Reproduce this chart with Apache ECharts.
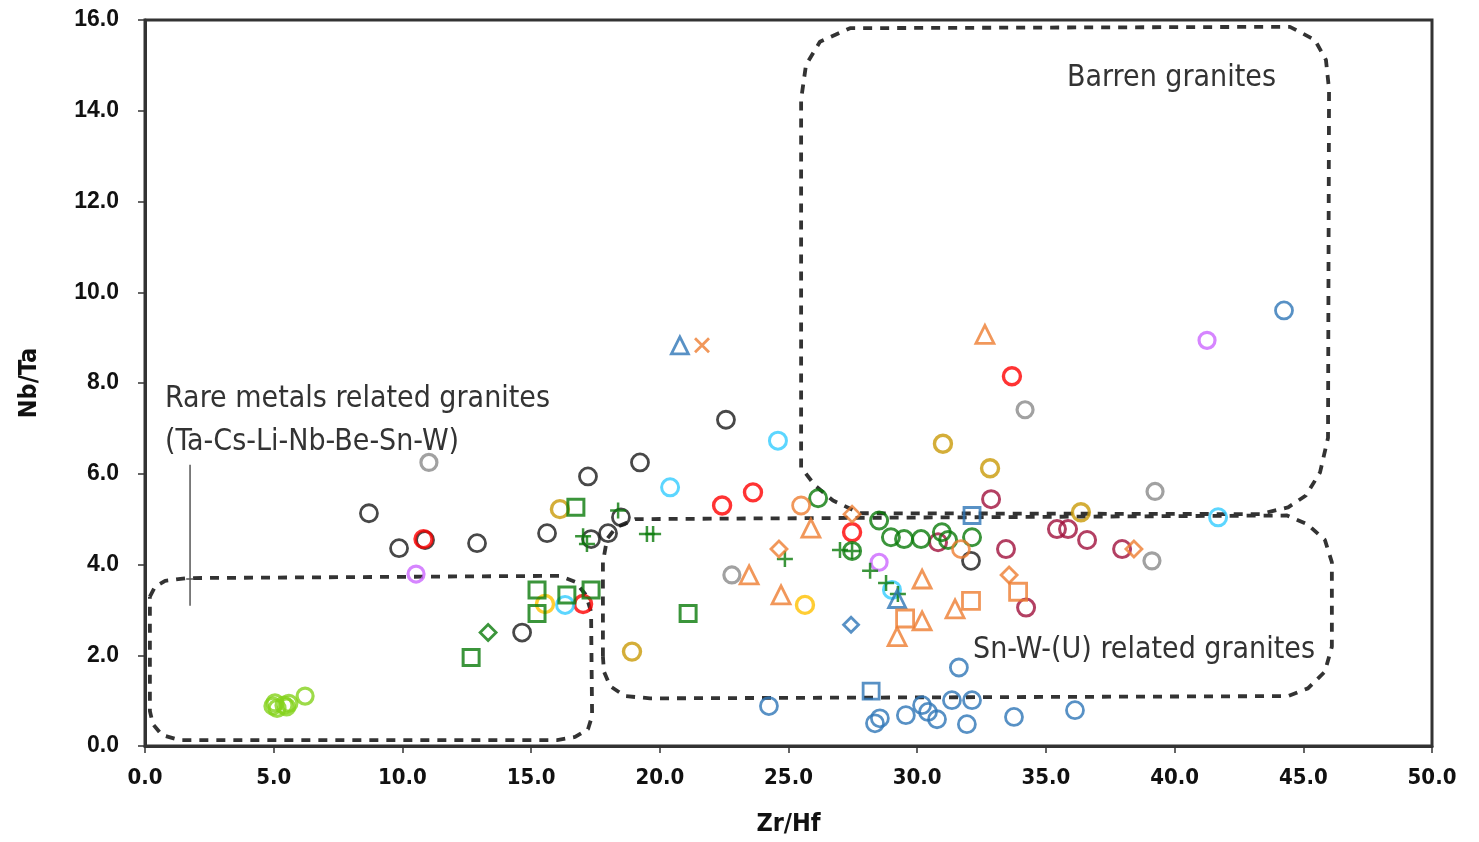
<!DOCTYPE html>
<html><head><meta charset="utf-8">
<script src="https://cdn.jsdelivr.net/npm/echarts@6/dist/echarts.min.js"></script>
<style>html,body{margin:0;padding:0;background:#fff}#c{width:1479px;height:842px}</style>
</head><body><div id="c"></div>
<script>
// ---- tick labels ----
const xTicks = [0, 5, 10, 15, 20, 25, 30, 35, 40, 45, 50];
const yTicks = [0, 2, 4, 6, 8, 10, 12, 14, 16];

// ---- data (Zr/Hf, Nb/Ta) ----
const blackCircles = [[8.70,5.13],[9.87,4.36],[10.88,4.54],[12.90,4.47],[14.65,2.50],[15.62,4.69],[17.21,5.94],[17.33,4.56],[17.99,4.69],[18.49,5.04],[19.23,6.25],[22.57,7.19],[32.09,4.08]];
const grayCircles = [[11.03,6.25],[22.80,3.77],[34.19,7.41],[39.24,5.61],[39.12,4.08]];
const redCircles = [[10.82,4.56],[17.02,3.13],[22.42,5.30],[23.62,5.59],[27.47,4.71],[33.68,8.15]];
const skyCircles = [[16.32,3.11],[20.40,5.70],[24.59,6.73],[29.02,3.44],[41.69,5.04]];
const yellowCircles = [[15.54,3.13],[25.64,3.11]];
const goldCircles = [[16.12,5.22],[18.92,2.08],[31.00,6.66],[32.83,6.12],[36.36,5.15]];
const purpleCircles = [[10.53,3.79],[28.52,4.05],[41.26,8.94]];
const crimsonCircles = [[30.81,4.49],[32.87,5.44],[33.45,4.34],[35.43,4.78],[35.86,4.78],[36.60,4.54],[37.96,4.34],[34.23,3.05]];
const greenCircles = [[26.15,5.46],[28.52,4.97],[28.98,4.60],[29.49,4.56],[30.15,4.56],[30.96,4.71],[31.20,4.54],[32.13,4.60],[27.47,4.30]];
const greenCrosses = [[17.02,4.62],[17.17,4.45],[18.38,5.19],[19.50,4.67],[19.74,4.67],[24.86,4.12],[27.00,4.32],[27.47,4.30],[28.17,3.86],[28.79,3.59],[29.25,3.35]];
const greenSquares = [[16.74,5.26],[15.23,3.44],[15.23,2.92],[16.39,3.33],[17.33,3.44],[21.10,2.92],[12.67,1.95]];
const greenDiamonds = [[13.33,2.50]];
const limeCircles = [[4.97,0.88],[5.05,0.95],[5.13,0.83],[5.40,0.90],[5.50,0.86],[5.59,0.94],[6.22,1.10]];
const blueCircles = [[44.25,9.60],[31.62,1.73],[28.36,0.50],[28.55,0.61],[29.56,0.68],[30.19,0.90],[30.42,0.75],[30.77,0.59],[31.35,1.01],[32.13,1.01],[31.93,0.48],[33.76,0.64],[24.24,0.88],[36.13,0.79]];
const blueSquares = [[28.21,1.21],[32.13,5.08]];
const blueTriangles = [[20.78,8.83],[29.22,3.24]];
const blueDiamonds = [[27.43,2.67]];
const orangeXs = [[21.64,8.83]];
const orangeCircles = [[25.49,5.30],[31.70,4.34]];
const orangeTriangles = [[25.87,4.80],[23.47,3.77],[24.71,3.33],[30.19,3.68],[30.19,2.76],[29.22,2.41],[31.47,3.02],[32.63,9.07]];
const orangeSquares = [[29.53,2.81],[32.09,3.20],[33.92,3.40]];
const orangeDiamonds = [[27.47,5.11],[24.63,4.34],[33.57,3.77],[38.42,4.34]];

// ---- field outlines (data coords) ----
const rareField = [[0.19,3.29],[0.39,3.51],[0.78,3.64],[1.63,3.70],[16.12,3.75],[16.71,3.62],[17.13,3.33],[17.33,2.96],[17.37,0.66],[17.21,0.37],[16.71,0.20],[16.01,0.13],[1.36,0.13],[0.66,0.24],[0.31,0.48],[0.19,0.77],[0.19,3.29]];
const snwField = [[17.79,1.97],[17.79,4.05],[17.95,4.56],[18.30,4.82],[19.04,5.00],[44.37,5.08],[45.15,4.89],[45.84,4.54],[46.11,4.05],[46.11,2.19],[45.84,1.64],[45.18,1.27],[44.41,1.10],[19.62,1.05],[18.65,1.10],[18.07,1.32],[17.83,1.64],[17.79,1.97]];
const barrenField = [[25.49,6.14],[25.49,14.25],[25.68,15.01],[26.22,15.52],[27.39,15.82],[44.48,15.85],[45.45,15.56],[45.88,15.12],[46.00,14.47],[45.96,6.79],[45.65,6.03],[45.10,5.52],[44.41,5.26],[43.32,5.11],[27.78,5.13],[26.73,5.41],[26.03,5.74],[25.49,6.14]];
const rareMarker = [[1.75,6.20],[1.75,3.09]];
const rareMarkerTick = [[1.60,3.68],[1.90,3.68]];

const PLUS = 'path://M0,5 L10,5 M5,0 L5,10';
const XMARK = 'path://M0,0 L10,10 M10,0 L0,10';
const NARROW = "'Liberation Sans Narrow','DejaVu Sans Condensed',sans-serif";

function sc(data, color, symbol, size, bw) {
  return {
    type: 'scatter', data: data, symbol: symbol, symbolSize: size, z: 5,
    itemStyle: { color: 'rgba(0,0,0,0)', borderColor: color, borderWidth: bw || 2.8 },
    emphasis: { disabled: true }
  };
}
function outline(data) {
  return {
    type: 'line', data: data, symbol: 'none', z: 2, silent: true,
    lineStyle: { color: '#333', width: 3.8, type: [9, 8] }
  };
}

const chart = echarts.init(document.getElementById('c'));
chart.setOption({
  animation: false,
  backgroundColor: '#fff',
  grid: { left: 145, right: 47, top: 20, bottom: 92, show: true, borderColor: '#333', borderWidth: 3, containLabel: false },
  xAxis: {
    type: 'value', min: 0, max: 50, interval: 5,
    name: 'Zr/Hf', nameLocation: 'middle', nameGap: 66,
    nameTextStyle: { fontFamily: NARROW, fontWeight: 'bold', fontSize: 25, color: '#111' },
    axisLine: { lineStyle: { color: '#333', width: 3 } },
    axisTick: { show: true, inside: false, length: 7, lineStyle: { color: '#333', width: 1.5 } },
    axisLabel: { margin: 21, fontFamily: NARROW, fontWeight: 'bold', fontSize: 22, color: '#111',
      formatter: v => xTicks.indexOf(v) >= 0 ? v.toFixed(1) : '' },
    splitLine: { show: false }
  },
  yAxis: {
    type: 'value', min: 0, max: 16, interval: 2,
    name: 'Nb/Ta', nameLocation: 'middle', nameGap: 103, nameRotate: 90,
    nameTextStyle: { fontFamily: NARROW, fontWeight: 'bold', fontSize: 25, color: '#111' },
    axisLine: { lineStyle: { color: '#333', width: 3 } },
    axisTick: { show: true, inside: false, length: 7, lineStyle: { color: '#333', width: 1.5 } },
    axisLabel: { margin: 26, fontFamily: "'Liberation Sans',Arial,sans-serif", fontWeight: 'bold', fontSize: 23, color: '#111',
      formatter: v => yTicks.indexOf(v) >= 0 ? v.toFixed(1) : '' },
    splitLine: { show: false }
  },
  graphic: [
    { type: 'text', left: 1067, top: 63, silent: true, style: { text: 'Barren granites', font: "30px " + NARROW, fill: '#333' } },
    { type: 'text', left: 165, top: 384, silent: true, style: { text: 'Rare metals related granites', font: "30px " + NARROW, fill: '#333' } },
    { type: 'text', left: 165, top: 427, silent: true, style: { text: '(Ta-Cs-Li-Nb-Be-Sn-W)', font: "30px " + NARROW, fill: '#333' } },
    { type: 'text', left: 973, top: 635, silent: true, style: { text: 'Sn-W-(U) related granites', font: "30px " + NARROW, fill: '#333' } }
  ],
  series: [
    outline(rareField), outline(snwField), outline(barrenField),
    { type: 'line', data: rareMarker, symbol: 'none', silent: true, z: 2, lineStyle: { color: '#555', width: 1.5 } },
    { type: 'line', data: rareMarkerTick, symbol: 'none', silent: true, z: 2, lineStyle: { color: '#555', width: 1.5 } },
    sc(limeCircles, '#84d21c', 'circle', 16, 3.2),
    sc(blackCircles, '#1a1a1a', 'circle', 17),
    sc(grayCircles, '#8a8a8a', 'circle', 16, 3.2),
    sc(redCircles, '#ff0000', 'circle', 17, 3.4),
    sc(skyCircles, '#33ccff', 'circle', 17, 3),
    sc(yellowCircles, '#ffc000', 'circle', 17, 3.4),
    sc(goldCircles, '#c99a08', 'circle', 17, 3.4),
    sc(purpleCircles, '#cc66ff', 'circle', 16, 3.2),
    sc(crimsonCircles, '#a0103c', 'circle', 17, 3),
    sc(greenCircles, '#0a7a0a', 'circle', 17, 3),
    sc(greenCrosses, '#0a7a0a', PLUS, 16, 2.5),
    sc(greenSquares, '#0a7a0a', 'rect', 16, 3),
    sc(greenDiamonds, '#0a7a0a', 'diamond', 16, 2.8),
    sc(blueCircles, '#2e75b6', 'circle', 17, 2.8),
    sc(blueSquares, '#2e75b6', 'rect', 16, 2.8),
    sc(blueTriangles, '#2e75b6', 'triangle', 17, 2.8),
    sc(blueDiamonds, '#2e75b6', 'diamond', 15, 2.8),
    sc(orangeXs, '#ed7d31', XMARK, 14, 2.8),
    sc(orangeCircles, '#ed7d31', 'circle', 17, 2.8),
    sc(orangeTriangles, '#ed7d31', 'triangle', 18, 2.8),
    sc(orangeSquares, '#ed7d31', 'rect', 17, 2.8),
    sc(orangeDiamonds, '#ed7d31', 'diamond', 16, 2.8)
  ]
});
</script></body></html>
